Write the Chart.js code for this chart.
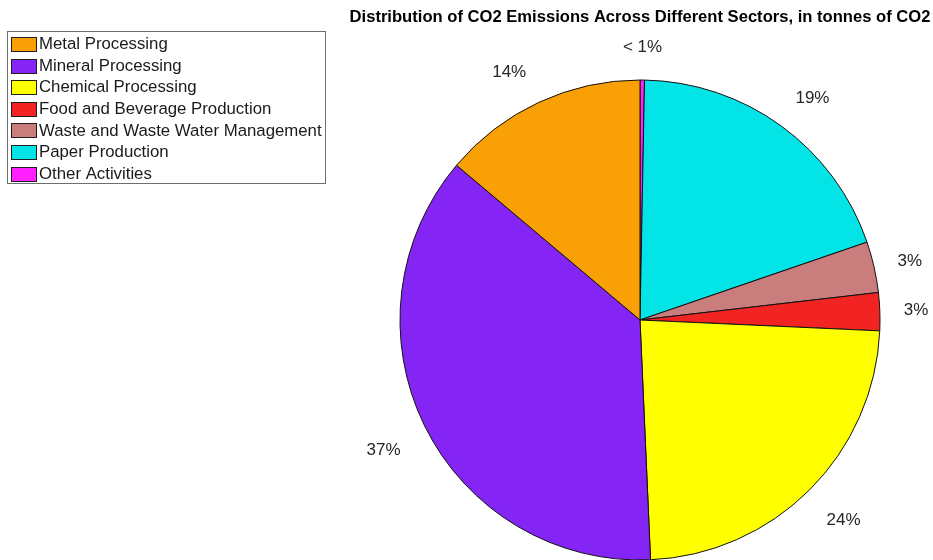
<!DOCTYPE html>
<html>
<head>
<meta charset="utf-8">
<title>CO2 Emissions by Sector</title>
<script src="https://cdn.jsdelivr.net/npm/chart.js@4/dist/chart.umd.min.js"></script>
<style>
  html, body { margin: 0; padding: 0; background: #ffffff; overflow: hidden; }
  #wrap { width: 933px; height: 600px; }
</style>
</head>
<body>
<div id="wrap"><canvas id="pie" width="933" height="600"></canvas></div>
<script>
// Sector names, in legend order
const sectors = [
  'Metal Processing',
  'Mineral Processing',
  'Chemical Processing',
  'Food and Beverage Production',
  'Waste and Waste Water Management',
  'Paper Production',
  'Other Activities'
];

// Share of total CO2 emissions per sector (%)
const shares = [13.85, 36.85, 23.58, 2.55, 3.43, 19.44, 0.30];

// Slice fill colours, same order as the sectors
const sliceColors = ['#F8A006', '#8425F6', '#FFFF00', '#F22323', '#C97D7D', '#02E4E5', '#FF22FF'];

const chartTitle = 'Distribution of CO2 Emissions Across Different Sectors, in tonnes of CO2';

const FONT = "'Liberation Sans', Arial, Helvetica, sans-serif";

// Chart.js sweeps clockwise; the pie is laid out counter-clockwise from 12 o'clock,
// so the dataset is handed over in reverse order.
const drawOrder = sectors.map((_, i) => i).reverse();

function pctLabel(v, total) {
  const p = v / total * 100;
  return p < 1 ? '< 1%' : Math.round(p) + '%';
}

// Percentage text just outside each slice
const sliceLabels = {
  id: 'sliceLabels',
  afterDatasetsDraw(chart) {
    const ctx = chart.ctx;
    const meta = chart.getDatasetMeta(0);
    const data = chart.data.datasets[0].data;
    const total = data.reduce((a, b) => a + b, 0);
    ctx.save();
    ctx.font = '17px ' + FONT;
    ctx.fillStyle = '#262626';
    meta.data.forEach((arc, i) => {
      const p = arc.getProps(['x', 'y', 'startAngle', 'endAngle', 'outerRadius'], true);
      const mid = (p.startAngle + p.endAngle) / 2;
      const dx = Math.cos(mid), dy = Math.sin(mid);
      const r = p.outerRadius * 1.1;
      let x = p.x + r * dx, y = p.y + r * dy;
      let align = 'center', base = 'middle';
      if (Math.abs(dx) >= 0.2) { align = dx > 0 ? 'left' : 'right'; }
      if (Math.abs(dy) >= 0.3) { base = dy > 0 ? 'top' : 'bottom'; }
      if (align === 'right') x -= 2.5;
      if (base === 'top') y += 5;
      ctx.textAlign = align;
      ctx.textBaseline = base;
      ctx.fillText(pctLabel(data[i], total), x, y);
    });
    ctx.restore();
  }
};

// Boxed legend in the top-left corner
const boxedLegend = {
  id: 'boxedLegend',
  afterDraw(chart) {
    const ctx = chart.ctx;
    const left = 7.5, top = 31.5, right = 325.5, bottom = 183.5;
    const step = 21.6;
    ctx.save();
    ctx.fillStyle = '#ffffff';
    ctx.fillRect(left, top, right - left, bottom - top);
    ctx.strokeStyle = '#6e6e6e';
    ctx.lineWidth = 1;
    ctx.strokeRect(left, top, right - left, bottom - top);
    ctx.font = '16.8px ' + FONT;
    ctx.textAlign = 'left';
    ctx.textBaseline = 'middle';
    sectors.forEach((name, i) => {
      const y = 37 + step * i;
      const sy = Math.round(y) + 0.5;
      ctx.fillStyle = sliceColors[i];
      ctx.fillRect(11.5, sy, 25, 14);
      ctx.strokeStyle = '#1f1f1f';
      ctx.strokeRect(11.5, sy, 25, 14);
      ctx.fillStyle = '#1a1a1a';
      ctx.fillText(name, 39, y + 7.5);
    });
    ctx.restore();
  }
};

new Chart(document.getElementById('pie'), {
  type: 'pie',
  data: {
    labels: drawOrder.map(i => sectors[i]),
    datasets: [{
      data: drawOrder.map(i => shares[i]),
      backgroundColor: drawOrder.map(i => sliceColors[i]),
      borderColor: '#111111',
      borderWidth: 1,
      radius: 240
    }]
  },
  options: {
    responsive: false,
    animation: false,
    events: [],
    rotation: 0,
    layout: { padding: { left: 347, right: 0, top: 0, bottom: 0 } },
    plugins: {
      legend: { display: false },
      tooltip: { enabled: false },
      title: {
        display: true,
        text: chartTitle,
        fullSize: false,
        align: 'center',
        color: '#000000',
        font: { family: FONT, size: 16.6, weight: 'bold', lineHeight: 1.2 },
        padding: { top: 7, bottom: 13.1 }
      }
    }
  },
  plugins: [sliceLabels, boxedLegend]
});
</script>
</body>
</html>
